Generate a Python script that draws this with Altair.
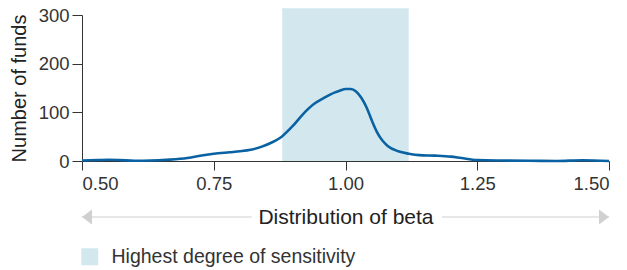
import altair as alt
import pandas as pd

# ---- data ----
beta = [0.50, 0.53, 0.55, 0.57, 0.60, 0.63, 0.66, 0.70, 0.73, 0.75, 0.78, 0.80,
        0.82, 0.84, 0.86, 0.88, 0.90, 0.92, 0.94, 0.96, 0.98, 0.99, 1.00, 1.01,
        1.02, 1.03, 1.04, 1.05, 1.06, 1.07, 1.08, 1.10, 1.12, 1.14, 1.17, 1.20,
        1.22, 1.25, 1.30, 1.35, 1.40, 1.45, 1.50]
funds = [1, 2, 2.5, 2, 0.5, 1, 2.5, 6, 12, 15, 18, 20,
         23, 29, 38, 51, 72, 97, 117, 130, 141, 145, 148, 148,
         143, 130, 110, 83, 59, 42, 31, 20, 15, 12, 11, 9,
         6, 2, 1, 0.5, 0, 1.5, 0]

band_start = [0.88]
band_end = [1.12]
band_top = [314]
band_label = ["Highest degree of sensitivity"]

x_ticks = [0.50, 0.75, 1.00, 1.25, 1.50]
y_ticks = [0, 100, 200, 300]

arrow_starts = [0.50, 1.183]
arrow_ends = [0.822, 1.50]
arrow_tips = [0.50, 1.50]
arrow_dirs = ["left", "right"]

FONT = "Liberation Sans"
LFS = 18.5

curve_df = pd.DataFrame({"x": beta, "y": funds})
band_df = pd.DataFrame({"x": band_start, "x2": band_end, "y": [0], "y2": band_top,
                        "label": band_label})
rule_df = pd.DataFrame({"x": arrow_starts, "x2": arrow_ends})
tip_df = pd.DataFrame({"x": arrow_tips, "dir": arrow_dirs})

xscale = alt.Scale(domain=[0.5, 1.5], nice=False, zero=False)
yscale = alt.Scale(domain=[0, 300], nice=False)

xaxis = alt.Axis(values=x_ticks, format=".2f", title="Distribution of beta",
                 grid=False, domainColor="#333", tickColor="#333", tickSize=9,
                 labelPadding=4, labelFontSize=LFS, labelFont=FONT, labelColor="#333",
                 titleFont=FONT, titleFontSize=21, titleFontWeight="normal",
                 titleColor="#222", titlePadding=14)
yaxis = alt.Axis(values=y_ticks, title="Number of funds", grid=False,
                 domainColor="#333", tickColor="#333", tickSize=10,
                 labelPadding=3, labelFontSize=LFS, labelFont=FONT, labelColor="#333",
                 titleFont=FONT, titleFontSize=20, titleFontWeight="normal",
                 titleColor="#222", titlePadding=9)

X = alt.X("x:Q", scale=xscale, axis=xaxis)
Y = alt.Y("y:Q", scale=yscale, axis=yaxis)

band = alt.Chart(band_df).mark_rect(clip=False, opacity=1).encode(
    x=X, x2="x2:Q", y=Y, y2="y2:Q",
    color=alt.Color("label:N", scale=alt.Scale(range=["#d2e8ee"]),
                    legend=alt.Legend(title=None, orient="none", legendX=-2, legendY=232,
                                      symbolType="square", symbolSize=289,
                                      symbolStrokeWidth=0, symbolOpacity=1,
                                      labelFont=FONT, labelFontSize=19.5, labelLimit=0,
                                      labelColor="#333", labelOffset=12))
)

line = alt.Chart(curve_df).mark_line(color="#0a62a3", strokeWidth=2.6,
                                     interpolate="monotone").encode(x=X, y=Y)

rules = alt.Chart(rule_df).mark_rule(color="#cfcfcf", strokeWidth=1.2).encode(
    x=X, x2="x2:Q", y=alt.value(202))

tips = alt.Chart(tip_df).mark_point(filled=True, opacity=1, color="#d0d0d0",
                                    strokeWidth=0, size=400).encode(
    x=X, y=alt.value(202),
    shape=alt.Shape("dir:N",
                    scale=alt.Scale(domain=["left", "right"],
                                    range=["M0,0L1,-0.75L1,0.75Z", "M0,0L-1,-0.75L-1,0.75Z"]),
                    legend=None)
)

chart = alt.layer(band, line, rules, tips).properties(
    width=527, height=146,
    autosize=alt.AutoSizeParams(type="none"),
    padding={"left": 74, "top": 7, "right": 10, "bottom": 110},
).configure_view(stroke=None)

chart.save("out.html", embed_options={"renderer": "svg", "actions": False})
